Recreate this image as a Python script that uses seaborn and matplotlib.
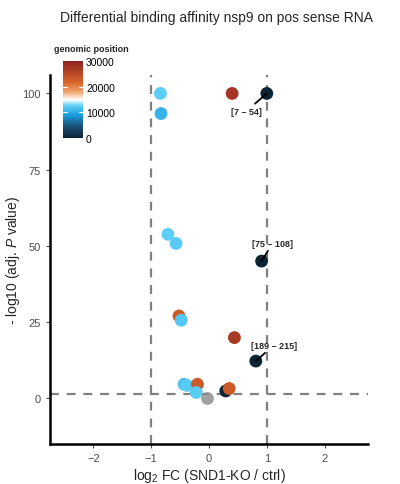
import numpy as np
import pandas as pd
import matplotlib
matplotlib.use("Agg")
import matplotlib.pyplot as plt
from matplotlib.colors import LinearSegmentedColormap, Normalize
from matplotlib.cm import ScalarMappable
import seaborn as sns

# values
log2fc = [-0.84, -0.83, 0.40, 1.00, -0.71, -0.57, 0.91, -0.52, -0.48, 0.44, 0.81,
          -0.43, -0.38, -0.20, -0.22, 0.29, 0.35]
neglog10p = [100.0, 93.4, 100.0, 100.0, 53.8, 50.8, 45.0, 27.0, 25.6, 19.9, 12.2,
             4.6, 4.2, 4.6, 1.9, 2.4, 3.2]
position = [12500, 10500, 27500, 30, 12500, 12300, 90, 23000, 12000, 27000, 200,
            11500, 12200, 23000, 12400, 150, 23000]
na_fc = [-0.03]
na_p = [0.0]
peak_labels = ["[7 – 54]", "[75 – 108]", "[189 – 215]"]
peak_fc = [1.00, 0.91, 0.81]
peak_p = [100.0, 45.0, 12.2]

df = pd.DataFrame({"fc": log2fc, "p": neglog10p, "pos": position})

cmap = LinearSegmentedColormap.from_list(
    "genpos",
    [(0.0, "#0c2433"), (0.15, "#1a4f73"), (0.3, "#1a9ee0"), (0.42, "#5fd0f7"),
     (0.5, "#ffffff"), (0.6, "#f2a66e"), (0.72, "#d9652b"), (1.0, "#8e2320")])
norm = Normalize(0, 30000)

sns.set_style("white")
plt.rcParams["font.family"] = ["Liberation Sans", "DejaVu Sans"]
plt.rcParams["mathtext.fontset"] = "custom"
plt.rcParams["mathtext.rm"] = "Liberation Sans"
plt.rcParams["mathtext.it"] = "Liberation Sans:italic"

fig = plt.figure(figsize=(4, 4.85), dpi=100)
ax = fig.add_axes([0.125, 0.0825, 0.795, 0.7605])

dash = dict(color="#808080", lw=1.6, ls=(0, (4, 3.5)), zorder=1)
ax.axvline(-1, **dash)
ax.axvline(1, **dash)
ax.axhline(1.3, **dash)

sns.scatterplot(data=df, x="fc", y="p", hue="pos", palette=cmap, hue_norm=norm,
                s=85, linewidth=0, legend=False, ax=ax, zorder=3)
sns.scatterplot(x=na_fc, y=na_p, color="#8a8a8a", alpha=0.8, s=85, linewidth=0,
                ax=ax, zorder=3)

offsets = [(-15, -13), (8, 13), (13, 11.5)]
for lab, x, y, off in zip(peak_labels, peak_fc, peak_p, offsets):
    ax.annotate(lab, xy=(x, y), xytext=off, textcoords="offset points",
                ha="center", va="center", fontsize=6.5, fontweight="bold",
                arrowprops=dict(arrowstyle="-", color="black", lw=1.3,
                                shrinkA=0, shrinkB=0), zorder=4)

ax.set_xlim(-2.75, 2.75)
ax.set_ylim(-15, 106)
ax.set_xticks([-2, -1, 0, 1, 2])
ax.set_xticklabels(["\u22122", "\u22121", "0", "1", "2"])
ax.set_yticks([0, 25, 50, 75, 100])
for s in ["top", "right"]:
    ax.spines[s].set_visible(False)
for s in ["left", "bottom"]:
    ax.spines[s].set_linewidth(1.8)
    ax.spines[s].set_color("black")
ax.tick_params(axis="both", length=3, width=0.8, color="#4d4d4d",
               labelcolor="#4d4d4d", labelsize=8, direction="out",
               bottom=True, left=True)
ax.set_xlabel("log$_2$ FC (SND1-KO / ctrl)", fontsize=10, labelpad=2)
ax.set_ylabel("- log10 (adj. $\\mathit{P}$ value)", fontsize=10)
ax.yaxis.set_label_coords(-0.088, 0.5)

fig.text(0.54, 0.962, "Differential binding affinity nsp9 on pos sense RNA",
         ha="center", va="center", fontsize=10)

cax = fig.add_axes([0.158, 0.713, 0.05, 0.159])
cb = fig.colorbar(ScalarMappable(norm=norm, cmap=cmap), cax=cax)
cb.set_ticks([0, 10000, 20000, 30000])
cb.outline.set_visible(False)
cax.tick_params(length=0, labelsize=7.5, pad=2, labelcolor="black")
for v in [10000, 20000]:
    cax.axhline(v, xmin=0, xmax=0.2, color="white", lw=0.8)
    cax.axhline(v, xmin=0.8, xmax=1, color="white", lw=0.8)
fig.text(0.135, 0.898, "genomic position", fontsize=6.5, fontweight="bold",
         ha="left", va="center")

fig.savefig("out.png", dpi=100)
